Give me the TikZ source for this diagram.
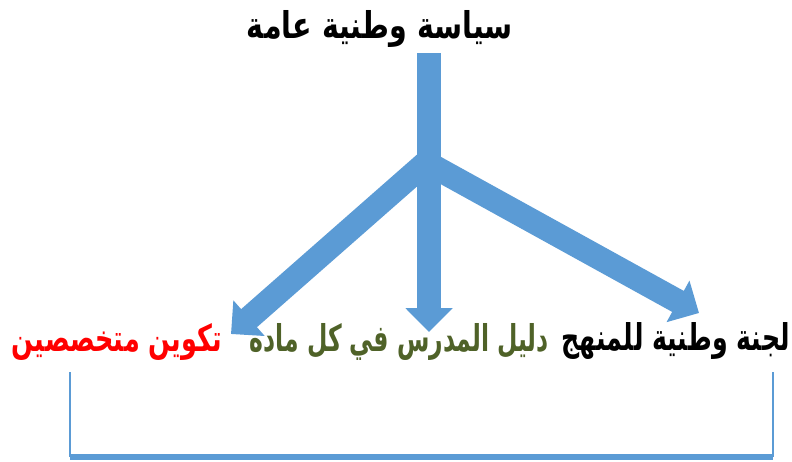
\documentclass[tikz,border=0pt]{standalone}
\usepackage{fontspec}
\usetikzlibrary{arrows.meta}
\newfontfamily\arabicfont[Script=Arabic]{DejaVu Sans}
\TeXXeTstate=1
\definecolor{flowblue}{HTML}{5B9BD5}
\definecolor{leafgreen}{HTML}{4F6228}
\begin{document}
\begin{tikzpicture}[x=1pt,y=-1pt,
  bigarrow/.style={line width=24pt, draw=flowblue, -{Triangle[width=46pt,length=24pt,fill=flowblue]}},
  thinline/.style={line width=2pt, draw=flowblue},
  baseline/.style={line width=6pt, draw=flowblue},
  label/.style={inner sep=0pt, anchor=east}]
\useasboundingbox (0,0) rectangle (792,461);
\fill[white] (0,0) rectangle (792,461);
% title
\node[inner sep=0pt] (title) at (380,28.5) {\resizebox*{266pt}{37pt}{\arabicfont\bfseries\beginR سياسة وطنية عامة\endR}};
% bottom labels
\node[label] (committee) at (790,341.5) {\resizebox*{228pt}{37pt}{\arabicfont\bfseries\beginR لجنة وطنية للمنهج\endR}};
\node[label, text=leafgreen] (guide) at (549,341.5) {\resizebox*{299pt}{37pt}{\arabicfont\bfseries\beginR دليل المدرس في كل مادة\endR}};
\node[label, text=red] (training) at (222,341.5) {\resizebox*{210pt}{37pt}{\arabicfont\bfseries\beginR تكوين متخصصين\endR}};
% arrow coordinates
\coordinate (stem) at (429,53);
\coordinate (jl) at (429,160);
\coordinate (jr) at (429,164);
\coordinate (tipl) at (231,334);
\coordinate (tipm) at (429,332);
\coordinate (tipr) at (699,313);
\draw[bigarrow] (stem) -- (tipm);
\draw[bigarrow] (jl) -- (tipl);
\draw[bigarrow] (jr) -- (tipr);
% bracket
\coordinate (bl) at (70,372);
\coordinate (br) at (773,372);
\coordinate (bbl) at (70,457);
\coordinate (bbr) at (773,457);
\draw[thinline] (bl) -- (bbl);
\draw[thinline] (br) -- (bbr);
\draw[baseline] (bbl) -- (bbr);
\end{tikzpicture}
\end{document}
